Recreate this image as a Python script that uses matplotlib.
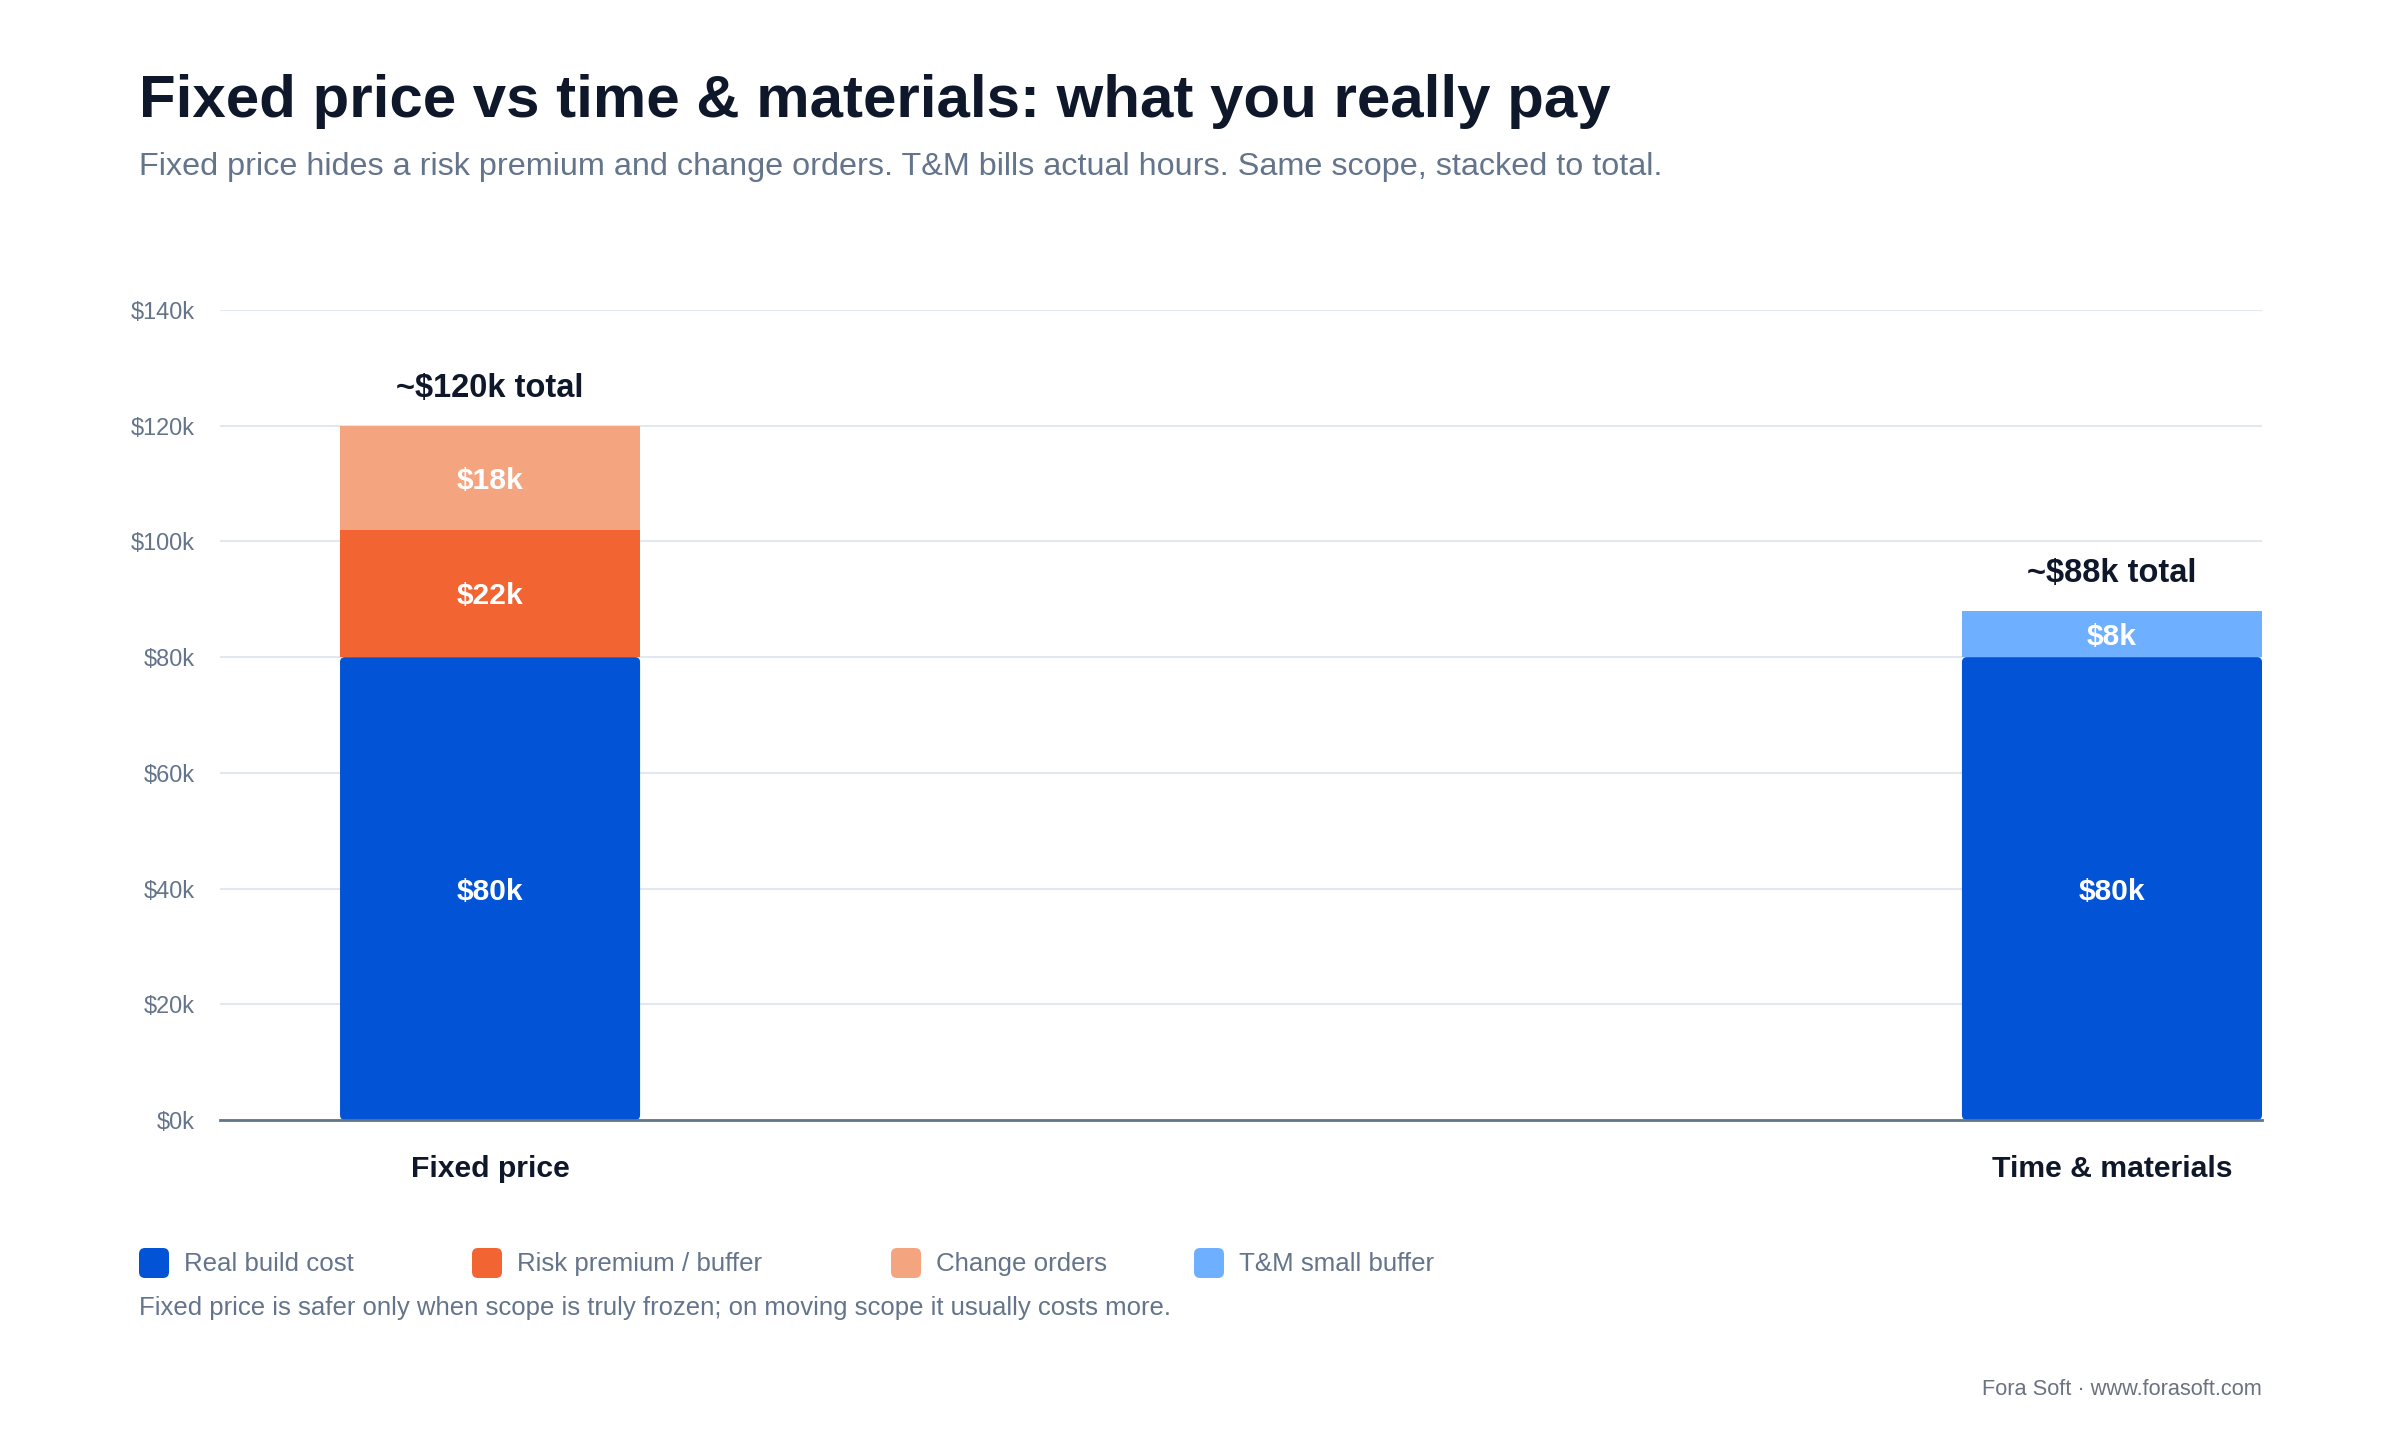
import matplotlib.pyplot as plt
from matplotlib.patches import FancyBboxPatch

plt.rcParams["font.family"] = ["Liberation Sans", "DejaVu Sans"]

categories = ["Fixed price", "Time & materials"]
real_build = [80, 80]
risk_premium = [22, 0]
change_orders = [18, 0]
tm_buffer = [0, 8]
y_ticks = [0, 20, 40, 60, 80, 100, 120, 140]
legend_labels = ["Real build cost", "Risk premium / buffer", "Change orders", "T&M small buffer"]

BLUE = "#0353D6"
ORANGE = "#F26532"
PEACH = "#F5A480"
SKY = "#6EB0FF"
DARK = "#0F172A"
GRAY = "#64748B"
GRID = "#E2E8F0"

W, H = 2400, 1440
fig = plt.figure(figsize=(W / 100, H / 100), dpi=100)
fig.patch.set_facecolor("white")

left, right, bottom, top = 220, 2262, 1120, 310
ax = fig.add_axes([left / W, 1 - bottom / H, (right - left) / W, (bottom - top) / H])
ax.set_xlim(-0.1665, 1.0925)
ax.set_ylim(0, 140)

x = list(range(len(categories)))
bw = 0.185

blue_bars = ax.bar(x, real_build, width=bw, color=BLUE, zorder=3)
base1 = real_build
risk_bars = ax.bar(x, risk_premium, width=bw, bottom=base1, color=ORANGE, zorder=3)
base2 = [a + b for a, b in zip(base1, risk_premium)]
change_bars = ax.bar(x, change_orders, width=bw, bottom=base2, color=PEACH, zorder=3)
base3 = [a + b for a, b in zip(base2, change_orders)]
tm_bars = ax.bar(x, tm_buffer, width=bw, bottom=base3, color=SKY, zorder=3)
totals = [a + b for a, b in zip(base3, tm_buffer)]

# round the corners of the base segments a little
px_x = (right - left) / (1.0925 + 0.1665)
px_y = (bottom - top) / 140
r_px = 5
for b in blue_bars:
    b.set_visible(False)
    ax.add_patch(FancyBboxPatch(
        (b.get_x(), b.get_y()), b.get_width(), b.get_height(),
        boxstyle=f"round,pad=0,rounding_size={r_px / px_x}",
        mutation_aspect=(r_px / px_y) / (r_px / px_x),
        facecolor=BLUE, edgecolor="none", zorder=3))

# segment value labels
for bars, vals in [(blue_bars, real_build), (risk_bars, risk_premium),
                   (change_bars, change_orders), (tm_bars, tm_buffer)]:
    for b, v in zip(bars, vals):
        if v == 0:
            continue
        ax.text(b.get_x() + b.get_width() / 2, b.get_y() + v / 2, f"${v}k",
                ha="center", va="center_baseline", color="white", fontsize=21.6,
                fontweight="bold", zorder=4)

# totals above the stacks
for xi, t in zip(x, totals):
    ax.annotate(f"~${t}k total", (xi, t), xytext=(0, 20.5), textcoords="offset points",
                ha="center", va="baseline", fontsize=23.5, fontweight="bold", color=DARK)

# category labels under the axis
for xi, c in zip(x, categories):
    ax.annotate(c, (xi, 0), xycoords=("data", "axes fraction"), xytext=(0, -40.8),
                textcoords="offset points", ha="center", va="baseline",
                fontsize=21.7, fontweight="bold", color=DARK)

ax.set_xticks([])
ax.set_yticks(y_ticks)
ax.set_yticklabels([f"${v}k" for v in y_ticks], fontsize=16.9, color=GRAY)
ax.tick_params(axis="y", length=0, pad=18)
ax.grid(axis="y", color=GRID, linewidth=1.5, zorder=0)
ax.set_axisbelow(True)
for s in ["top", "right", "left"]:
    ax.spines[s].set_visible(False)
ax.spines["bottom"].set_color(GRAY)
ax.spines["bottom"].set_linewidth(2)
ax.spines["bottom"].set_zorder(5)

tr = fig.dpi_scale_trans


def px(xp, yp):
    return xp / 100, (H - yp) / 100


fig.text(*px(139, 117), "Fixed price vs time & materials: what you really pay",
         transform=tr, fontsize=43.2, fontweight="bold", color=DARK, va="baseline")
fig.text(*px(139, 175),
         "Fixed price hides a risk premium and change orders. T&M bills actual hours. "
         "Same scope, stacked to total.",
         transform=tr, fontsize=23.3, color=GRAY, va="baseline")

# legend
legend_colors = [BLUE, ORANGE, PEACH, SKY]
swatch_x = [139, 472, 891, 1194]
for sx, col, lab in zip(swatch_x, legend_colors, legend_labels):
    x0, y0 = px(sx, 1263 + 15)
    fig.add_artist(FancyBboxPatch((x0, y0), 0.30, 0.30,
                                  boxstyle="round,pad=0,rounding_size=0.06",
                                  transform=tr, facecolor=col, edgecolor="none"))
    fig.text(*px(sx + 45, 1271), lab, transform=tr, fontsize=18.6, color=GRAY, va="baseline")

fig.text(*px(139, 1315),
         "Fixed price is safer only when scope is truly frozen; on moving scope it usually costs more.",
         transform=tr, fontsize=18.5, color=GRAY, va="baseline")
fig.text(*px(2262, 1395), "Fora Soft · www.forasoft.com", transform=tr,
         fontsize=15.7, color="#6B7280", ha="right", va="baseline")

fig.savefig("out.png", dpi=100, facecolor="white")
